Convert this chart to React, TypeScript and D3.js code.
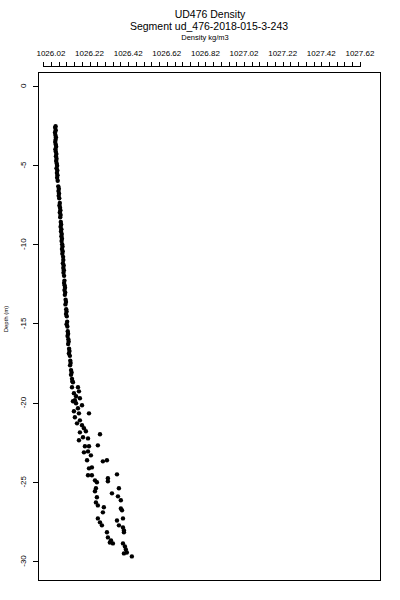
import * as d3 from "d3";
import { useEffect, useRef } from "react";

// ---------------  TEXT  ---------------
const titleLines = ["UD476 Density", "Segment ud_476-2018-015-3-243"];
const xAxisTitle = "Density kg/m3";
const yAxisTitle = "Depth (m)";

// ---------------  AXES  ---------------
const xTickLabels = [1026.02, 1026.22, 1026.42, 1026.62, 1026.82, 1027.02, 1027.22, 1027.42, 1027.62];
const xMinorFrom = 1025.98;
const xMinorTo = 1027.62;
const xMinorStep = 0.04;
const yTickValues = [0, -5, -10, -15, -20, -25, -30];
const xDomain = [1025.953, 1027.724];
const yDomain = [0.87, -31.2];

// ---------------  DATA [depth, density]  ---------------
// upper, nearly straight part of the cast
const upperSamples = [
    [-2.55, 1026.044], [-2.65, 1026.042], [-2.8, 1026.045], [-2.95, 1026.041], [-3.1, 1026.043],
    [-3.25, 1026.046], [-3.4, 1026.044], [-3.55, 1026.042], [-3.7, 1026.045], [-3.85, 1026.047],
    [-4.0, 1026.043], [-4.15, 1026.045], [-4.3, 1026.048], [-4.45, 1026.046], [-4.6, 1026.049],
    [-4.75, 1026.047], [-4.9, 1026.050], [-5.05, 1026.052], [-5.2, 1026.049], [-5.35, 1026.053],
    [-5.5, 1026.051], [-5.65, 1026.054], [-5.8, 1026.052], [-6.0, 1026.055], [-6.35, 1026.058],
    [-6.5, 1026.061], [-6.65, 1026.059], [-6.8, 1026.062], [-6.95, 1026.060], [-7.1, 1026.063],
    [-7.4, 1026.066], [-7.55, 1026.064], [-7.7, 1026.067], [-7.85, 1026.069], [-8.0, 1026.066],
    [-8.15, 1026.070], [-8.3, 1026.068], [-8.6, 1026.071], [-8.75, 1026.073], [-8.9, 1026.070],
    [-9.05, 1026.074], [-9.2, 1026.072], [-9.35, 1026.076], [-9.5, 1026.074], [-9.65, 1026.077],
    [-9.8, 1026.075], [-10.0, 1026.078], [-10.15, 1026.080], [-10.3, 1026.077], [-10.45, 1026.081],
    [-10.6, 1026.079], [-10.8, 1026.083], [-11.0, 1026.084], [-11.2, 1026.082], [-11.35, 1026.086],
    [-11.5, 1026.084], [-11.65, 1026.087], [-11.8, 1026.085], [-12.0, 1026.088], [-12.3, 1026.090],
    [-12.45, 1026.088], [-12.6, 1026.091], [-12.75, 1026.093], [-12.9, 1026.090], [-13.05, 1026.094],
    [-13.2, 1026.092], [-13.5, 1026.096], [-13.65, 1026.098], [-13.8, 1026.095], [-14.1, 1026.099],
    [-14.25, 1026.101], [-14.4, 1026.098], [-14.55, 1026.102], [-14.9, 1026.104], [-15.05, 1026.101],
    [-15.2, 1026.105], [-15.5, 1026.107], [-15.65, 1026.109], [-15.8, 1026.106], [-16.0, 1026.110],
    [-16.15, 1026.112], [-16.3, 1026.109], [-16.6, 1026.114], [-16.75, 1026.116], [-16.9, 1026.113],
    [-17.05, 1026.118], [-17.35, 1026.120], [-17.5, 1026.122], [-17.65, 1026.119], [-17.95, 1026.124],
    [-18.1, 1026.127], [-18.25, 1026.124], [-18.5, 1026.129], [-18.65, 1026.131],
];

// lower part, where the cast splits in two
const lowerSamples = [
    [-18.72, 1026.134], [-19.03, 1026.129], [-19.03, 1026.160], [-19.29, 1026.165], [-19.41, 1026.139],
    [-19.60, 1026.150], [-19.73, 1026.170], [-19.85, 1026.144], [-19.92, 1026.134], [-20.04, 1026.150],
    [-20.17, 1026.181], [-20.36, 1026.160], [-20.55, 1026.139], [-20.68, 1026.165], [-20.68, 1026.217],
    [-20.93, 1026.144], [-21.12, 1026.170], [-21.31, 1026.155], [-21.43, 1026.181], [-21.62, 1026.191],
    [-21.81, 1026.201], [-21.88, 1026.170], [-22.00, 1026.274], [-22.19, 1026.186], [-22.26, 1026.212],
    [-22.38, 1026.165], [-22.70, 1026.263], [-22.76, 1026.196], [-22.76, 1026.217], [-23.08, 1026.212],
    [-23.14, 1026.191], [-23.33, 1026.227], [-23.64, 1026.207], [-23.64, 1026.310], [-23.71, 1026.289],
    [-24.09, 1026.232], [-24.15, 1026.217], [-24.53, 1026.362], [-24.59, 1026.212], [-24.59, 1026.232],
    [-24.78, 1026.315], [-24.91, 1026.248], [-24.97, 1026.315], [-25.03, 1026.258], [-25.41, 1026.253],
    [-25.41, 1026.372], [-25.60, 1026.248], [-25.73, 1026.336], [-25.92, 1026.367], [-25.98, 1026.258],
    [-26.17, 1026.382], [-26.30, 1026.253], [-26.49, 1026.263], [-26.61, 1026.294], [-26.68, 1026.382],
    [-26.80, 1026.388], [-26.93, 1026.289], [-27.31, 1026.263], [-27.31, 1026.393], [-27.44, 1026.362],
    [-27.56, 1026.274], [-27.75, 1026.284], [-27.75, 1026.372], [-27.88, 1026.393], [-28.07, 1026.398],
    [-28.19, 1026.310], [-28.19, 1026.398], [-28.51, 1026.315], [-28.70, 1026.331], [-28.83, 1026.325],
    [-28.89, 1026.341], [-28.89, 1026.393], [-29.08, 1026.403], [-29.27, 1026.408], [-29.46, 1026.413],
    [-29.52, 1026.398], [-29.71, 1026.439],
];

export default function App() {
    const refSvg = useRef<SVGSVGElement>(null);

    useEffect(() => {
        const svg = d3.select(refSvg.current);
        svg.selectAll("*").remove();

        const box = { left: 38, right: 380, top: 72, bottom: 580 };
        const font = "'Liberation Sans', Arial, sans-serif";

        const X = d3.scaleLinear().domain(xDomain).range([box.left, box.right]);
        const Y = d3.scaleLinear().domain(yDomain).range([box.top, box.bottom]);

        //    ---------------   TITLES  ------------------------
        svg.append("text").text(titleLines[0])
            .attr("x", 210).attr("y", 17.5)
            .attr("text-anchor", "middle")
            .attr("font-family", font).attr("font-size", 10.5);

        svg.append("text").text(titleLines[1])
            .attr("x", 209).attr("y", 29.5)
            .attr("text-anchor", "middle")
            .attr("font-family", font).attr("font-size", 10.5);

        svg.append("text").text(xAxisTitle)
            .attr("x", 205).attr("y", 39.5)
            .attr("text-anchor", "middle")
            .attr("font-family", font).attr("font-size", 7.5);

        //    ---------------   TOP AXIS  ------------------------
        const minor = d3.range(xMinorFrom, xMinorTo + xMinorStep / 2, xMinorStep);
        const gTop = svg.append("g").attr("shape-rendering", "crispEdges");

        gTop.append("line")
            .attr("x1", Math.round(X(minor[0])) + 0.5)
            .attr("x2", Math.round(X(minor[minor.length - 1])) + 0.5)
            .attr("y1", 66.5).attr("y2", 66.5)
            .attr("stroke", "black");

        gTop.selectAll(".tick")
            .data(minor)
            .join("line")
            .attr("class", "tick")
            .attr("x1", (d) => Math.round(X(d)) + 0.5)
            .attr("x2", (d) => Math.round(X(d)) + 0.5)
            .attr("y1", 61.5).attr("y2", 66.5)
            .attr("stroke", "black");

        svg.append("g")
            .selectAll("text")
            .data(xTickLabels)
            .join("text")
            .attr("x", (d) => X(d))
            .attr("y", 55.5)
            .attr("text-anchor", "middle")
            .attr("font-family", font).attr("font-size", 8)
            .text((d) => d3.format(".2f")(d));

        //    ---------------   LEFT AXIS  ------------------------
        const gLeft = svg.append("g").attr("shape-rendering", "crispEdges");
        gLeft.selectAll("line")
            .data(yTickValues)
            .join("line")
            .attr("x1", 33).attr("x2", box.left)
            .attr("y1", (d) => Math.round(Y(d)) + 0.5)
            .attr("y2", (d) => Math.round(Y(d)) + 0.5)
            .attr("stroke", "black");

        svg.append("g")
            .selectAll("text")
            .data(yTickValues)
            .join("text")
            .attr("transform", (d) => `translate(26,${Y(d)}) rotate(-90)`)
            .attr("text-anchor", "middle")
            .attr("font-family", font).attr("font-size", 8)
            .text((d) => String(d));

        svg.append("text").text(yAxisTitle)
            .attr("transform", "translate(7.5,319) rotate(-90)")
            .attr("text-anchor", "middle")
            .attr("font-family", font).attr("font-size", 6);

        //    ---------------   BOX  ------------------------
        svg.append("rect")
            .attr("x", box.left + 0.5).attr("y", box.top + 0.5)
            .attr("width", box.right - box.left)
            .attr("height", box.bottom - box.top)
            .attr("fill", "none")
            .attr("stroke", "black")
            .attr("stroke-width", 1.3)
            .attr("shape-rendering", "crispEdges");

        //    ---------------   DATA POINTS  ------------------------
        svg.append("g")
            .selectAll("circle")
            .data([...upperSamples, ...lowerSamples])
            .join("circle")
            .attr("cx", (d) => X(d[1]))
            .attr("cy", (d) => Y(d[0]))
            .attr("r", 2.2)
            .attr("fill", "black");
    }, []);

    return (
        <svg
            ref={refSvg}
            width={400}
            height={600}
            style={{ position: "absolute", left: 0, top: 0, background: "white" }}
        />
    );
}
